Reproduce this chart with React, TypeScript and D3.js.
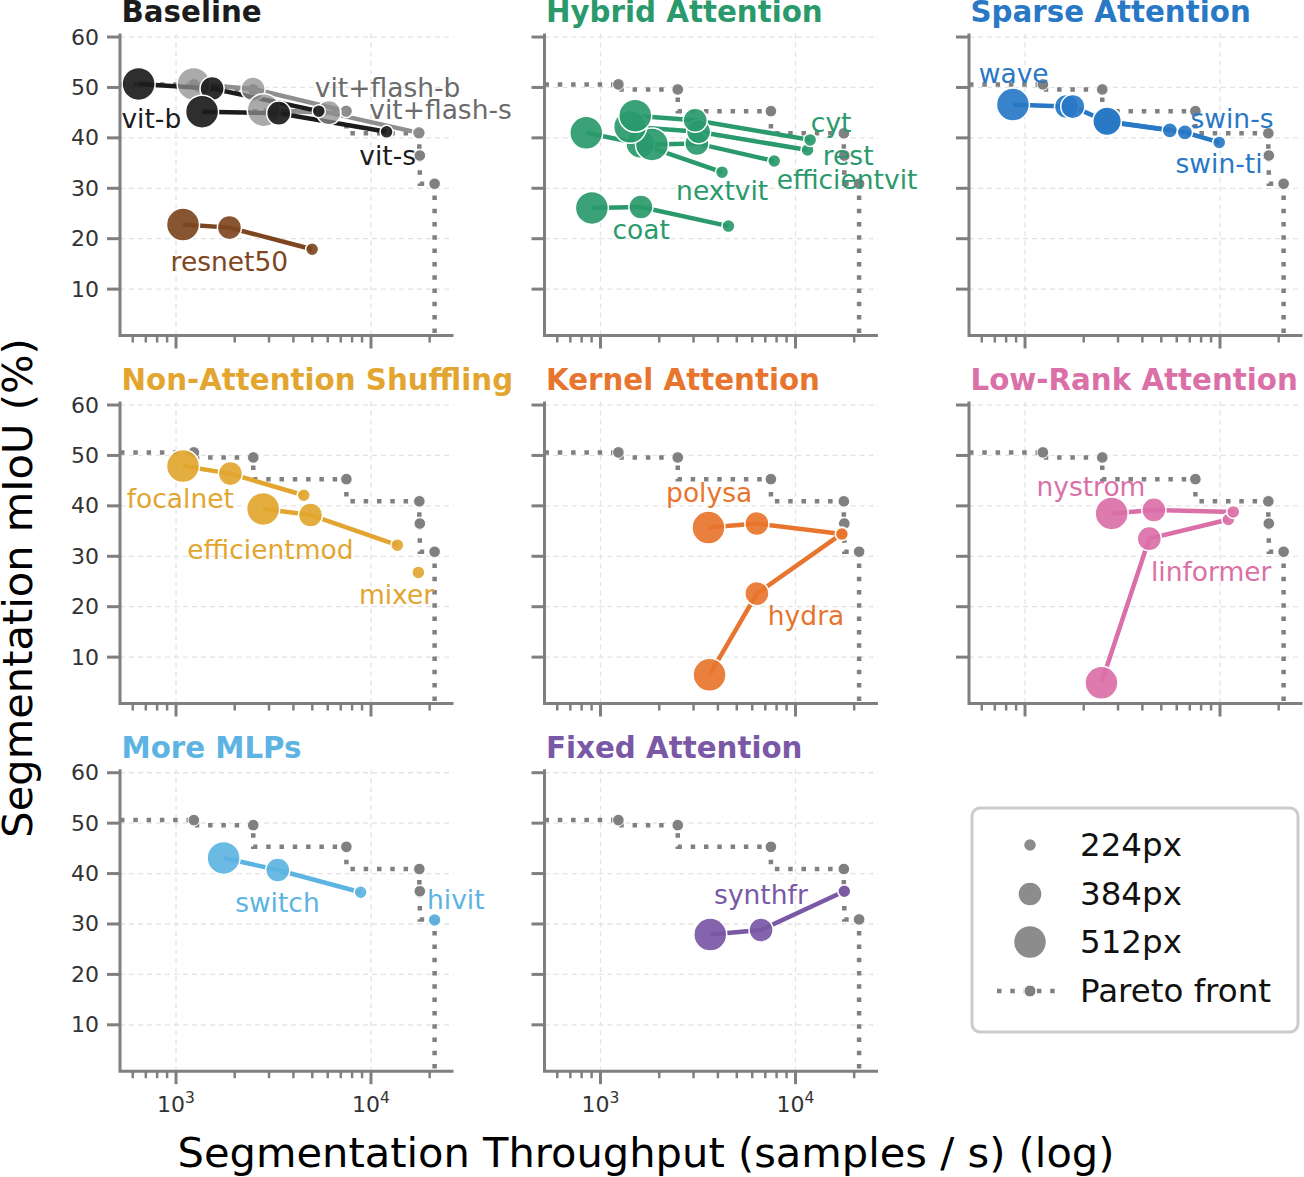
import React from 'react';
import * as d3 from 'd3';

const W = 1304;
const H = 1177;
const FONT = '"DejaVu Sans", sans-serif';

const panelTitles = [
  'Baseline',
  'Hybrid Attention',
  'Sparse Attention',
  'Non-Attention Shuffling',
  'Kernel Attention',
  'Low-Rank Attention',
  'More MLPs',
  'Fixed Attention',
];
const panelColors = ['#1c1c1c', '#2a9a6c', '#2878c5', '#e2a630', '#e8752e', '#da70a7', '#5db4e2', '#7a58a6'];

type Pt = [number, number, number]; // throughput, mIoU, resolution
interface Series {
  name: string;
  pts: Pt[];
  label: [number, number];
  color?: string;
  textColor?: string;
}

const baselineSeries: Series[] = [
  { name: 'vit+flash-b', color: '#8e8e8e', textColor: '#6b6b6b', pts: [[1231, 50.7, 512], [2484, 49.7, 384], [7460, 45.3, 224]], label: [12170, 49.9] },
  { name: 'vit+flash-s', color: '#8e8e8e', textColor: '#6b6b6b', pts: [[2818, 45.5, 512], [6080, 45.0, 384], [17620, 41.0, 224]], label: [22750, 45.7] },
  { name: 'vit-b', color: '#1c1c1c', pts: [[643, 50.7, 512], [1531, 49.8, 384], [5400, 45.3, 224]], label: [747, 43.9] },
  { name: 'vit-s', color: '#1c1c1c', pts: [[1360, 45.2, 512], [3363, 44.9, 384], [12020, 41.2, 224]], label: [12170, 36.6] },
  { name: 'resnet50', color: '#7d4620', pts: [[1086, 22.8, 512], [1879, 22.2, 384], [4990, 17.9, 224]], label: [1879, 15.4] },
];

const hybridSeries: Series[] = [
  { name: 'coat', pts: [[903, 26.1, 512], [1611, 26.3, 384], [4530, 22.5, 224]], label: [1618, 21.9] },
  { name: 'nextvit', pts: [[845, 41.0, 512], [1599, 38.8, 448], [4200, 33.2, 224]], label: [4207, 29.6] },
  { name: 'efficientvit', pts: [[1836, 38.7, 512], [3120, 38.9, 384], [7780, 35.4, 224]], label: [18380, 31.8] },
  { name: 'rest', pts: [[1419, 42.2, 512], [3186, 41.2, 384], [11530, 37.6, 224]], label: [18620, 36.6] },
  { name: 'cyt', pts: [[1507, 44.4, 512], [3060, 43.5, 384], [11890, 39.6, 224]], label: [15240, 43.1] },
];

const sparseSeries: Series[] = [
  { name: 'wave', pts: [[867, 46.6, 512], [1633, 46.2, 384]], label: [875, 52.7] },
  { name: 'swin-s', pts: [[1758, 46.2, 384], [2636, 43.2, 448], [5530, 41.5, 256]], label: [11530, 43.9] },
  { name: 'swin-ti', pts: [[2636, 43.3, 448], [6610, 41.1, 256], [9910, 39.1, 224]], label: [9890, 35.0] },
];

const shufflingSeries: Series[] = [
  { name: 'focalnet', pts: [[1086, 47.9, 512], [1901, 46.4, 384], [4520, 42.1, 224]], label: [1052, 41.5] },
  { name: 'efficientmod', pts: [[2798, 39.4, 512], [4893, 38.2, 384], [13650, 32.2, 224]], label: [3048, 31.4] },
  { name: 'mixer', pts: [[17500, 26.8, 224]], label: [13520, 22.5] },
];

const kernelSeries: Series[] = [
  { name: 'hydra', pts: [[3624, 6.5, 512], [6340, 22.6, 384], [17300, 34.5, 224]], label: [11330, 18.3] },
  { name: 'polysa', pts: [[3578, 35.7, 512], [6340, 36.5, 384], [17300, 34.4, 224]], label: [3607, 42.7] },
];

const lowRankSeries: Series[] = [
  { name: 'linformer', pts: [[2466, 4.9, 512], [4340, 33.5, 384], [11040, 37.3, 224]], label: [9020, 26.9] },
  { name: 'nystrom', pts: [[2782, 38.5, 512], [4580, 39.2, 384], [11700, 38.8, 224]], label: [2178, 43.9] },
];

const mlpSeries: Series[] = [
  { name: 'switch', pts: [[1754, 43.1, 512], [3325, 40.7, 384], [8850, 36.3, 224]], label: [3313, 34.2] },
  { name: 'hivit', pts: [[21200, 30.8, 224]], label: [27230, 34.8] },
];

const fixedSeries: Series[] = [
  { name: 'synthfr', pts: [[3655, 27.9, 512], [6660, 28.8, 384], [17800, 36.5, 224]], label: [6650, 35.9] },
];

const panelSeries = [baselineSeries, hybridSeries, sparseSeries, shufflingSeries, kernelSeries, lowRankSeries, mlpSeries, fixedSeries];

const paretoFront: [number, number][] = [
  [1235, 50.6], [2490, 49.6], [7480, 45.3], [17700, 40.9], [17800, 36.5], [21200, 30.9],
];

const yTicks = [10, 20, 30, 40, 50, 60];
const xMajor = [1000, 10000];
const xMinor = [600, 700, 800, 900, 2000, 3000, 4000, 5000, 6000, 7000, 8000, 9000, 20000];
const legendSizes = [224, 384, 512];

const X_DOMAIN: [number, number] = [516, 26500];
const Y_DOMAIN: [number, number] = [0.8, 60.7];

const colX = [120, 544.5, 969];
const rowY = [33.5, 401.5, 769.2];
const PW = 333.5;
const PH = 302;

const GRAY = '#808080';
const SPINE = '#7f7f7f';
const PARETO_DASH = '4.5 8.8';

const rScale = d3.scaleLinear().domain([224, 512]).range([6.5, 16.5]);

function Panel({ idx }: { idx: number }) {
  const col = idx % 3;
  const row = Math.floor(idx / 3);
  const x0 = colX[col];
  const top = rowY[row];
  const bottom = top + PH;
  const x = d3.scaleLog().domain(X_DOMAIN).range([x0, x0 + PW]);
  const y = d3.scaleLinear().domain(Y_DOMAIN).range([bottom, top]);
  const series = panelSeries[idx];
  const pColor = panelColors[idx];

  const paretoLine = d3
    .line<[number, number]>()
    .x((d) => x(d[0]))
    .y((d) => y(d[1]))
    .curve(d3.curveStepBefore);
  const paretoPath = paretoLine([
    [X_DOMAIN[0], paretoFront[0][1]],
    ...paretoFront,
    [paretoFront[paretoFront.length - 1][0], Y_DOMAIN[0]],
  ]);

  const sLine = d3
    .line<Pt>()
    .x((d) => x(d[0]))
    .y((d) => y(d[1]));

  const showY = col === 0;
  const showX = row === 2;

  return (
    <g>
      {/* grid */}
      {yTicks.map((t) => (
        <line key={'gy' + t} x1={x0} x2={x0 + PW} y1={y(t)} y2={y(t)} stroke="#e3e3e3" strokeWidth={1.3} strokeDasharray="5 4" />
      ))}
      {xMajor.map((t) => (
        <line key={'gx' + t} x1={x(t)} x2={x(t)} y1={top} y2={bottom} stroke="#e3e3e3" strokeWidth={1.3} strokeDasharray="5 4" />
      ))}

      {/* pareto front */}
      <path d={paretoPath || ''} fill="none" stroke={GRAY} strokeWidth={4.5} strokeDasharray={PARETO_DASH} />
      {paretoFront.map((p, i) => (
        <circle key={'pp' + i} cx={x(p[0])} cy={y(p[1])} r={5.8} fill={GRAY} stroke="#fff" strokeWidth={1} />
      ))}

      {/* series lines */}
      {series.map((s) => (
        <path key={'l' + s.name} d={sLine(s.pts) || ''} fill="none" stroke={s.color || pColor} strokeWidth={4.5} />
      ))}
      {/* series markers */}
      {series.map((s) =>
        s.pts.map((p, i) => (
          <circle
            key={'m' + s.name + i}
            cx={x(p[0])}
            cy={y(p[1])}
            r={rScale(p[2])}
            fill={s.color || pColor}
            fillOpacity={s.color === '#8e8e8e' ? 0.75 : 0.92}
            stroke="#fff"
            strokeWidth={1.5}
          />
        ))
      )}
      {/* labels */}
      {series.map((s) => (
        <text
          key={'t' + s.name}
          x={x(s.label[0])}
          y={y(s.label[1])}
          textAnchor="middle"
          dominantBaseline="central"
          fontSize={26.5}
          fill={s.textColor || s.color || pColor}
        >
          {s.name}
        </text>
      ))}

      {/* spines */}
      <path d={`M${x0},${top}V${bottom}H${x0 + PW}`} fill="none" stroke={SPINE} strokeWidth={3} strokeLinejoin="miter" />
      {/* y ticks */}
      {yTicks.map((t) => (
        <g key={'yt' + t}>
          <line x1={x0 - 13} x2={x0} y1={y(t)} y2={y(t)} stroke={SPINE} strokeWidth={3} />
          {showY && (
            <text x={x0 - 21} y={y(t)} textAnchor="end" dominantBaseline="central" fontSize={22} fill="#333">
              {t}
            </text>
          )}
        </g>
      ))}
      {/* x ticks */}
      {xMajor.map((t) => (
        <g key={'xt' + t}>
          <line x1={x(t)} x2={x(t)} y1={bottom} y2={bottom + 13} stroke={SPINE} strokeWidth={3} />
          {showX && (
            <text x={x(t)} y={bottom + 41} textAnchor="middle" fontSize={22} fill="#333">
              10
              <tspan fontSize={15.5} dy={-9}>
                {Math.round(Math.log10(t))}
              </tspan>
            </text>
          )}
        </g>
      ))}
      {xMinor.map((t) => (
        <line key={'xm' + t} x1={x(t)} x2={x(t)} y1={bottom} y2={bottom + 7} stroke={SPINE} strokeWidth={2.5} />
      ))}

      {/* title */}
      <text x={x0 + 1.5} y={top - 11.5} fontSize={29.3} fontWeight="bold" fill={pColor}>
        {panelTitles[idx]}
      </text>
    </g>
  );
}

function Legend() {
  const lx = 1030;
  const rows = [845, 894, 942, 991];
  return (
    <g>
      <rect x={972} y={808} width={326} height={224} rx={8} fill="#fff" stroke="#cccccc" strokeWidth={3} />
      {legendSizes.map((s, i) => (
        <g key={'lg' + s}>
          <circle cx={lx} cy={rows[i]} r={rScale(s)} fill="#8c8c8c" stroke="#fff" strokeWidth={1.5} />
          <text x={1080} y={rows[i]} dominantBaseline="central" fontSize={32.5} fill="#111">
            {s}px
          </text>
        </g>
      ))}
      <line x1={997} x2={1063} y1={rows[3]} y2={rows[3]} stroke={GRAY} strokeWidth={4.5} strokeDasharray={PARETO_DASH} />
      <circle cx={lx} cy={rows[3]} r={6} fill={GRAY} stroke="#fff" strokeWidth={1} />
      <text x={1080} y={rows[3]} dominantBaseline="central" fontSize={32.5} fill="#111">
        Pareto front
      </text>
    </g>
  );
}

export default function App() {
  return (
    <svg
      width={W}
      height={H}
      viewBox={`0 0 ${W} ${H}`}
      style={{ position: 'absolute', left: 0, top: 0, background: '#fff' }}
      fontFamily={FONT}
    >
      <rect x={0} y={0} width={W} height={H} fill="#fff" />
      {panelTitles.map((_, i) => (
        <Panel key={i} idx={i} />
      ))}
      <Legend />
      <text x={646} y={1167} textAnchor="middle" fontSize={41.6} fill="#000">
        Segmentation Throughput (samples / s) (log)
      </text>
      <text
        transform="translate(32,588) rotate(-90)"
        textAnchor="middle"
        fontSize={41.6}
        fill="#000"
      >
        Segmentation mIoU (%)
      </text>
    </svg>
  );
}
